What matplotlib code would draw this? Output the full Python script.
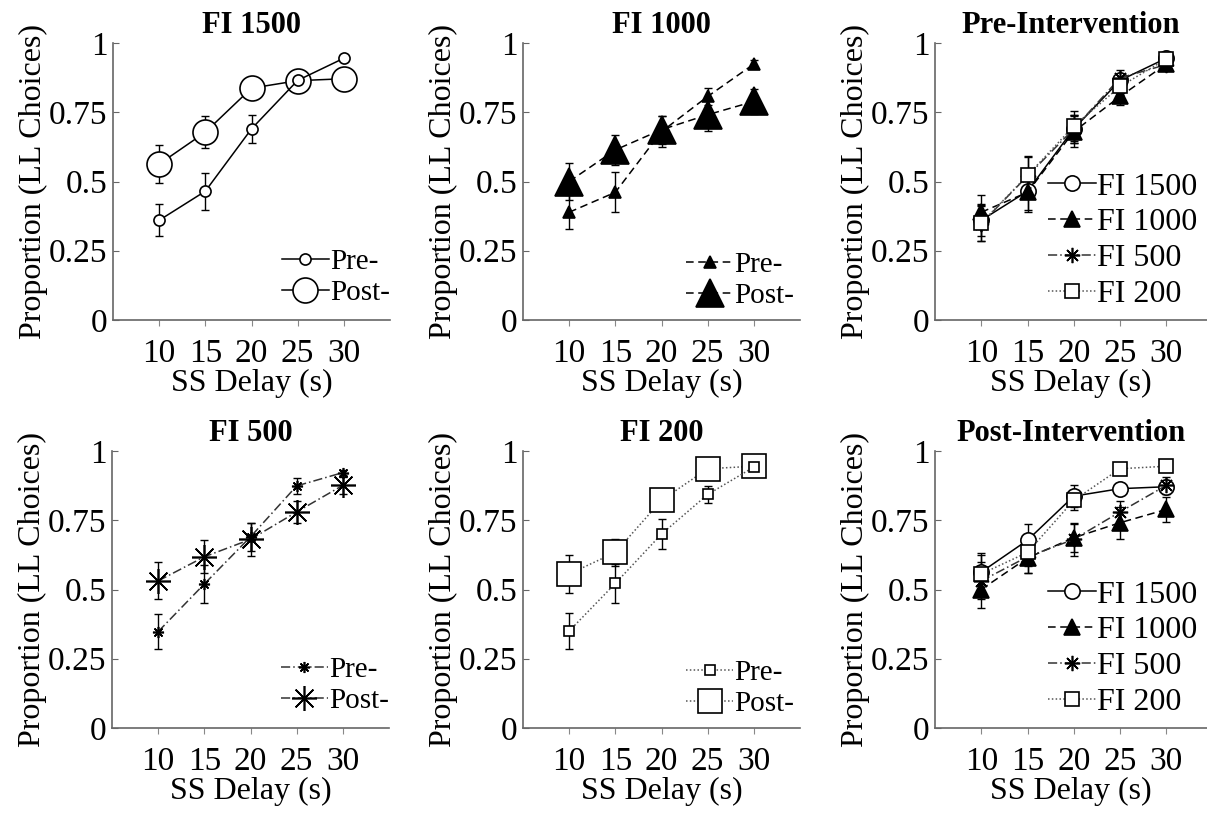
"""Six-panel figure: proportion of LL choices vs SS delay, pre/post intervention."""
import matplotlib
matplotlib.use("Agg")
import matplotlib.pyplot as plt

plt.rcParams["font.family"] = ["Liberation Serif", "DejaVu Serif"]
plt.rcParams["mathtext.fontset"] = "stix"

# --- data ---
delays = [10, 15, 20, 25, 30]
yticks = [0, 0.25, 0.5, 0.75, 1]
ytick_labels = ["0", "0.25", "0.5", "0.75", "1"]

fi1500_pre = [0.36, 0.465, 0.69, 0.865, 0.945]
fi1500_pre_err = [0.058, 0.067, 0.05, 0.02, 0.01]
fi1500_post = [0.563, 0.678, 0.837, 0.864, 0.871]
fi1500_post_err = [0.067, 0.057, 0.04, 0.02, 0.025]

fi1000_pre = [0.389, 0.461, 0.68, 0.807, 0.924]
fi1000_pre_err = [0.062, 0.072, 0.055, 0.03, 0.015]
fi1000_post = [0.50, 0.614, 0.687, 0.741, 0.789]
fi1000_post_err = [0.066, 0.053, 0.05, 0.058, 0.045]

fi500_pre = [0.348, 0.52, 0.69, 0.874, 0.922]
fi500_pre_err = [0.064, 0.07, 0.05, 0.03, 0.01]
fi500_post = [0.531, 0.618, 0.681, 0.78, 0.876]
fi500_post_err = [0.067, 0.06, 0.06, 0.04, 0.03]

fi200_pre = [0.35, 0.522, 0.70, 0.843, 0.942]
fi200_pre_err = [0.064, 0.07, 0.055, 0.03, 0.01]
fi200_post = [0.556, 0.634, 0.822, 0.936, 0.945]
fi200_post_err = [0.068, 0.05, 0.035, 0.02, 0.015]

# style per schedule: marker, linestyle, line colour, marker face
ASTER = (8, 2, 0)
styles = {
    "FI 1500": ("o", "-", "black", "white"),
    "FI 1000": ("^", (0, (5, 3)), "black", "black"),
    "FI 500": (ASTER, (0, (6, 2, 1, 2)), "#333333", "black"),
    "FI 200": ("s", (0, (1, 1.5)), "#555555", "white"),
}
sizes_small = {"FI 1500": 8, "FI 1000": 9, "FI 500": 8, "FI 200": 7}
sizes_big = {"FI 1500": 18, "FI 1000": 20, "FI 500": 18, "FI 200": 17}
sizes_mid = {"FI 1500": 11, "FI 1000": 12, "FI 500": 11, "FI 200": 10}

series = {
    "FI 1500": (fi1500_pre, fi1500_pre_err, fi1500_post, fi1500_post_err),
    "FI 1000": (fi1000_pre, fi1000_pre_err, fi1000_post, fi1000_post_err),
    "FI 500": (fi500_pre, fi500_pre_err, fi500_post, fi500_post_err),
    "FI 200": (fi200_pre, fi200_pre_err, fi200_post, fi200_post_err),
}

FS_TICK = 24
FS_LABEL = 23
FS_TITLE = 22
W, H = 1207, 817
fig = plt.figure(figsize=(W / 100, H / 100), dpi=100)


def make_ax(left_px, bottom_px, right_px, top_px, xmax=35):
    ax = fig.add_axes([left_px / W, 1 - bottom_px / H,
                       (right_px - left_px) / W, (bottom_px - top_px) / H])
    ax.set_xlim(5, xmax)
    ax.set_ylim(0, 1)
    for s in ("top", "right"):
        ax.spines[s].set_visible(False)
    for s in ("left", "bottom"):
        ax.spines[s].set_color("#666666")
        ax.spines[s].set_linewidth(1.2)
    ax.set_xticks(delays)
    ax.set_yticks(yticks)
    ax.set_yticklabels(ytick_labels)
    ax.tick_params(axis="x", direction="out", length=4, width=0.8,
                   color="#888888", labelsize=FS_TICK, pad=9)
    ax.tick_params(axis="y", direction="in", length=4, width=0.8,
                   color="#666666", labelsize=FS_TICK, pad=4)
    ax.set_xlabel("SS Delay (s)", fontsize=FS_LABEL, labelpad=0)
    ax.set_ylabel("Proportion (LL Choices)", fontsize=FS_LABEL, labelpad=1)
    return ax


def draw(ax, key, y, err, ms, label, zorder=3):
    marker, ls, lc, mfc = styles[key]
    ax.errorbar(delays, y, yerr=err, fmt="none", ecolor="black",
                elinewidth=1.0, capsize=3, capthick=1.0, zorder=zorder - 1)
    (ln,) = ax.plot(delays, y, linestyle=ls, color=lc, linewidth=1.1,
                    marker=marker, markersize=ms, markerfacecolor=mfc,
                    markeredgecolor="black", markeredgewidth=1.2,
                    label=label, zorder=zorder)
    return ln


def single_panel(ax, key, title, leg_anchor):
    pre, pre_err, post, post_err = series[key]
    draw(ax, key, pre, pre_err, sizes_small[key], "Pre-", zorder=4)
    draw(ax, key, post, post_err, sizes_big[key], "Post-", zorder=3)
    ax.set_title(title, fontsize=FS_TITLE, fontweight="bold", pad=7)
    ax.legend(loc="lower right", bbox_to_anchor=leg_anchor, frameon=False,
              fontsize=21, handlelength=1.6, handletextpad=0.05,
              labelspacing=0.15, borderpad=0, borderaxespad=0)


def combined_panel(ax, which, title):
    for key in ["FI 1500", "FI 1000", "FI 500", "FI 200"]:
        pre, pre_err, post, post_err = series[key]
        y, e = (pre, pre_err) if which == "pre" else (post, post_err)
        draw(ax, key, y, e, sizes_mid[key], key)
    ax.set_title(title, fontsize=FS_TITLE, fontweight="bold", pad=7)
    ax.legend(loc="lower right", bbox_to_anchor=(0.965, 0.04), frameon=False,
              fontsize=23, handlelength=1.5, handletextpad=0.05,
              labelspacing=0.2, borderpad=0, borderaxespad=0)


# top row
ax1 = make_ax(113, 320, 390, 43)
single_panel(ax1, "FI 1500", "FI 1500", (1.0, 0.05))
ax2 = make_ax(523, 320, 800, 43)
single_panel(ax2, "FI 1000", "FI 1000", (0.98, 0.04))
ax3 = make_ax(935, 320, 1207, 43, xmax=34.4)
combined_panel(ax3, "pre", "Pre-Intervention")

# bottom row
ax4 = make_ax(112, 728, 389, 451)
single_panel(ax4, "FI 500", "FI 500", (1.0, 0.05))
ax5 = make_ax(523, 728, 800, 451)
single_panel(ax5, "FI 200", "FI 200", (0.98, 0.04))
ax6 = make_ax(935, 728, 1207, 451, xmax=34.4)
combined_panel(ax6, "post", "Post-Intervention")

fig.savefig("out.png", dpi=100)
